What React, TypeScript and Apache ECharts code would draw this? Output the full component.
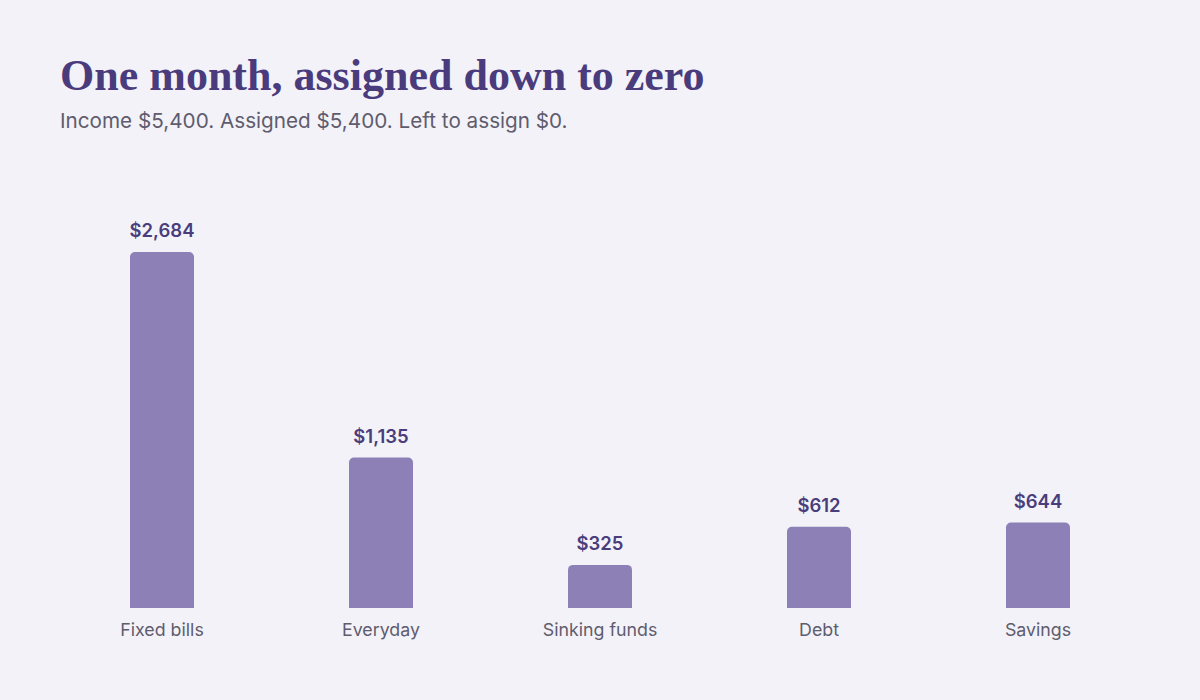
import React, { useEffect, useRef } from "react";
import * as echarts from "echarts";

const categories = ["Fixed bills", "Everyday", "Sinking funds", "Debt", "Savings"];
const amounts = [2684, 1135, 325, 612, 644];
const titleText = "One month, assigned down to zero";
const subtitleText = "Income $5,400. Assigned $5,400. Left to assign $0.";

const fmt = (v: number) => "$" + v.toLocaleString("en-US");

export default function App() {
  const ref = useRef<HTMLDivElement>(null);
  useEffect(() => {
    if (!ref.current) return;
    const chart = echarts.init(ref.current, undefined, { renderer: "svg" });
    chart.setOption({
      animation: false,
      backgroundColor: "#f3f2f8",
      graphic: [
        {
          type: "text",
          left: 60,
          top: 53,
          style: {
            text: titleText,
            fontFamily: "'Liberation Serif', serif",
            fontWeight: "bold",
            fontSize: 44,
            fill: "#4a3b7d",
          },
        },
        {
          type: "text",
          left: 60,
          top: 110,
          style: {
            text: subtitleText,
            fontFamily: "Inter, sans-serif",
            fontSize: 20.7,
            fill: "#5f5c6e",
          },
        },
      ],
      grid: { left: 52.5, right: 52.5, top: 210, bottom: 92 },
      xAxis: {
        type: "category",
        data: categories,
        axisLine: { show: false },
        axisTick: { show: false },
        axisLabel: {
          margin: 12,
          fontFamily: "Inter, sans-serif",
          fontSize: 17.8,
          color: "#5f5c6e",
        },
      },
      yAxis: {
        type: "value",
        min: 0,
        max: 3000,
        show: false,
        splitLine: { show: false },
      },
      series: [
        {
          type: "bar",
          data: amounts,
          barWidth: 64,
          itemStyle: { color: "#8c80b6", borderRadius: [5, 5, 0, 0] },
          label: {
            show: true,
            position: "top",
            distance: 12,
            formatter: (p: any) => fmt(p.value),
            fontFamily: "Inter, sans-serif",
            fontSize: 18.5,
            fontWeight: 600,
            color: "#4a3d7c",
          },
        },
      ],
    });
    return () => chart.dispose();
  }, []);
  return (
    <div
      ref={ref}
      style={{ position: "fixed", left: 0, top: 0, width: 1200, height: 700 }}
    />
  );
}
